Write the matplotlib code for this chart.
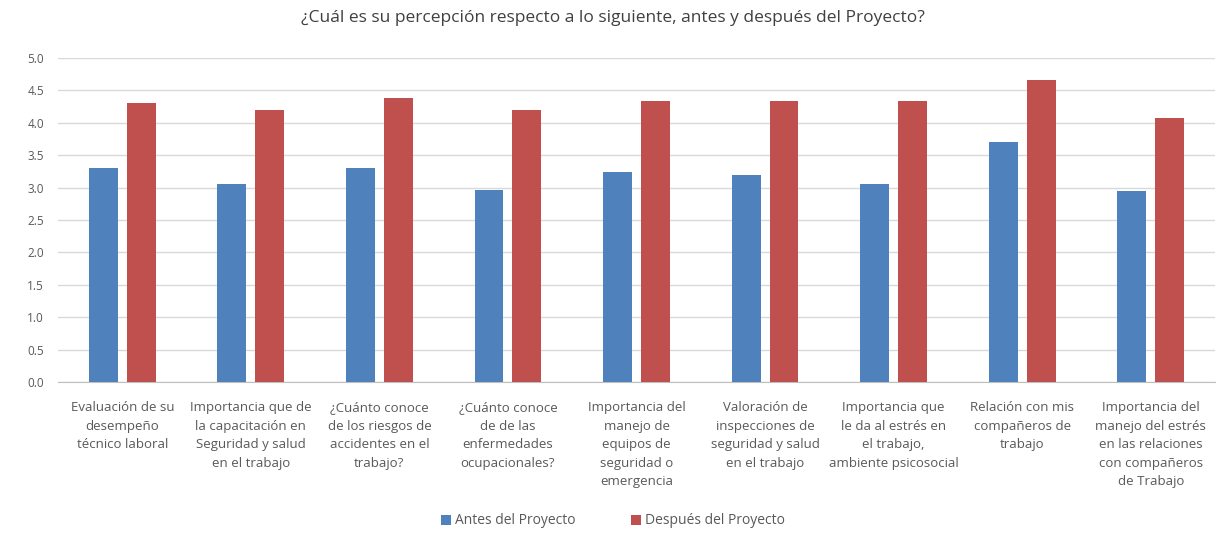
import numpy as np
import matplotlib.pyplot as plt

categories = [
    "Evaluación de su\ndesempeño\ntécnico laboral",
    "Importancia que de\nla capacitación en\nSeguridad y salud\nen el trabajo",
    "¿Cuánto conoce\nde los riesgos de\naccidentes en el\ntrabajo?",
    "¿Cuánto conoce\nde de las\nenfermedades\nocupacionales?",
    "Importancia del\nmanejo de\nequipos de\nseguridad o\nemergencia",
    "Valoración de\ninspecciones de\nseguridad y salud\nen el trabajo",
    "Importancia que\nle da al estrés en\nel trabajo,\nambiente psicosocial",
    "Relación con mis\ncompañeros de\ntrabajo",
    "Importancia del\nmanejo del estrés\nen las relaciones\ncon compañeros\nde Trabajo",
]
antes = [3.30, 3.05, 3.30, 2.97, 3.24, 3.20, 3.05, 3.70, 2.94]
despues = [4.30, 4.19, 4.38, 4.19, 4.33, 4.33, 4.33, 4.66, 4.07]
yticks = [0.0, 0.5, 1.0, 1.5, 2.0, 2.5, 3.0, 3.5, 4.0, 4.5, 5.0]

plt.rcParams['font.family'] = ['Open Sans', 'DejaVu Sans']
txt = '#595959'

fig = plt.figure(figsize=(12.26, 5.46), dpi=100)
ax = fig.add_axes([58 / 1226, 1 - 382 / 546, 1157 / 1226, 324 / 546])

x = np.arange(len(categories))
w = 0.225
gap = 0.035
ax.bar(x - w / 2 - gap, antes, w, color='#4F81BD', label='Antes del Proyecto', zorder=3)
ax.bar(x + w / 2 + gap, despues, w, color='#C0504D', label='Después del Proyecto', zorder=3)

ax.set_xlim(-0.5, len(categories) - 0.5)
ax.set_ylim(0, 5)
ax.set_yticks(yticks)
ax.set_yticklabels([f'{v:.1f}' for v in yticks], color=txt, fontsize=8.5)
ax.set_xticks(x)
ax.set_xticklabels(categories, color=txt, fontsize=9.5, linespacing=1.55)
ax.tick_params(axis='x', length=0, pad=14)
ax.tick_params(axis='y', length=0, pad=10)
ax.grid(axis='y', color='#D9D9D9', linewidth=1, zorder=0)
for s in ['top', 'right', 'left']:
    ax.spines[s].set_visible(False)
ax.spines['bottom'].set_color('#BFBFBF')

fig.suptitle('¿Cuál es su percepción respecto a lo siguiente, antes y después del Proyecto?',
             y=1 - 18 / 546, fontsize=12.5, color='#404040', va='center')
fig.legend(loc='center', bbox_to_anchor=(0.5, 1 - 521 / 546), ncol=2, frameon=False,
           fontsize=10, handlelength=0.7, handleheight=0.7, columnspacing=4,
           handletextpad=0.3, labelcolor=txt)

fig.savefig('out.png', dpi=100)
